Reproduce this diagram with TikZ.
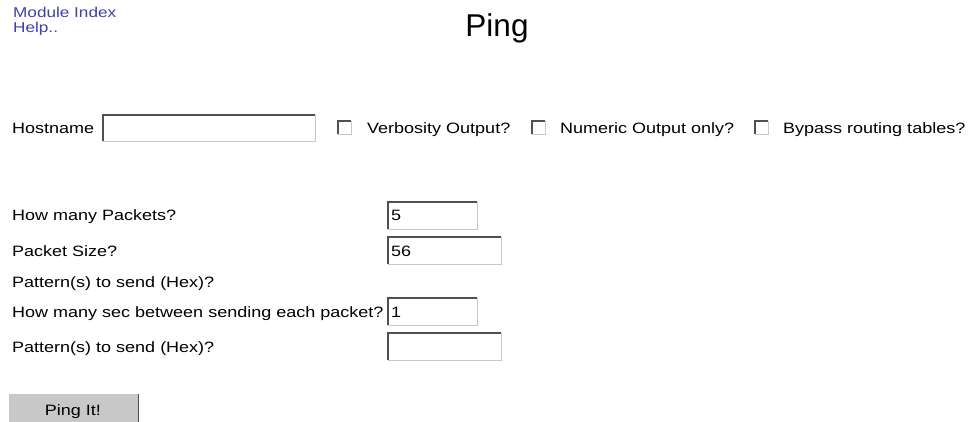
\documentclass[tikz,border=0pt]{standalone}
\usepackage{fontspec}
\setmainfont{Liberation Sans}
\newfontfamily\uifont[FakeStretch=1.2]{Liberation Sans}
\definecolor{linkblue}{RGB}{64,64,170}
\definecolor{darkedge}{RGB}{80,80,80}
\definecolor{lightedge}{RGB}{200,200,200}
\definecolor{btngray}{RGB}{200,200,200}
\newcommand\insetborder[1]{%
  \draw[lightedge,line width=1pt] (#1.north east) -- (#1.south east) -- (#1.south west);
  \draw[darkedge,line width=2pt] (#1.south west) -- (#1.north west) -- (#1.north east);}
\begin{document}
\begin{tikzpicture}[x=1pt,y=-1pt,
  lbl/.style={anchor=base west,inner sep=0pt,font=\uifont\fontsize{15}{18}\selectfont},
  linklbl/.style={lbl,text=linkblue,font=\uifont\fontsize{14.3}{17}\selectfont},
  fieldbox/.style={anchor=north west,draw=none,fill=white,inner sep=0pt},
  chk/.style={anchor=north west,fill=white,inner sep=0pt,minimum width=13pt,minimum height=13pt},
  fieldtxt/.style={lbl}]
\useasboundingbox[fill=white] (0,0) rectangle (969,422);
% links and title
\node[linklbl] (modidx) at (13,18) {Module Index};
\node[linklbl] (help) at (13,33) {Help..};
\node[anchor=base,inner sep=0pt,font=\fontsize{31.5}{36}\selectfont] (title) at (497,37) {Ping};
% hostname row
\node[lbl] (hostlbl) at (12,134) {Hostname};
\node[fieldbox,minimum width=212pt,minimum height=26pt] (hostf) at (103,115) {};
\insetborder{hostf}
\node[chk] (c1) at (338,121) {}; \insetborder{c1}
\node[lbl] (c1l) at (367,134) {Verbosity Output?};
\node[chk] (c2) at (532,121) {}; \insetborder{c2}
\node[lbl] (c2l) at (560,134) {Numeric Output only?};
\node[chk] (c3) at (755,121) {}; \insetborder{c3}
\node[lbl] (c3l) at (783,134) {Bypass routing tables?};
% parameter rows
\node[lbl] (r1) at (12,221) {How many Packets?};
\node[fieldbox,minimum width=89pt,minimum height=27pt] (f1) at (388,202) {};
\insetborder{f1}
\node[fieldtxt] (v1) at (391,221) {5};
\node[lbl] (r2) at (12,256) {Packet Size?};
\node[fieldbox,minimum width=113pt,minimum height=27pt] (f2) at (388,237) {};
\insetborder{f2}
\node[fieldtxt] (v2) at (391,256) {56};
\node[lbl] (r3) at (12,287) {Pattern(s) to send (Hex)?};
\node[lbl] (r4) at (12,317) {How many sec between sending each packet?};
\node[fieldbox,minimum width=89pt,minimum height=27pt] (f4) at (388,298) {};
\insetborder{f4}
\node[fieldtxt] (v4) at (391,317) {1};
\node[lbl] (r5) at (12,352) {Pattern(s) to send (Hex)?};
\node[fieldbox,minimum width=113pt,minimum height=27pt] (f5) at (388,333) {};
\insetborder{f5}
% button
\node[anchor=north west,fill=btngray,inner sep=0pt,minimum width=129pt,minimum height=28pt] (btn) at (9,394) {};
\draw[darkedge,line width=1.5pt] (btn.north east) -- (btn.south east);
\node[lbl,anchor=base] (btnl) at (73,415) {Ping It!};
\end{tikzpicture}
\end{document}
